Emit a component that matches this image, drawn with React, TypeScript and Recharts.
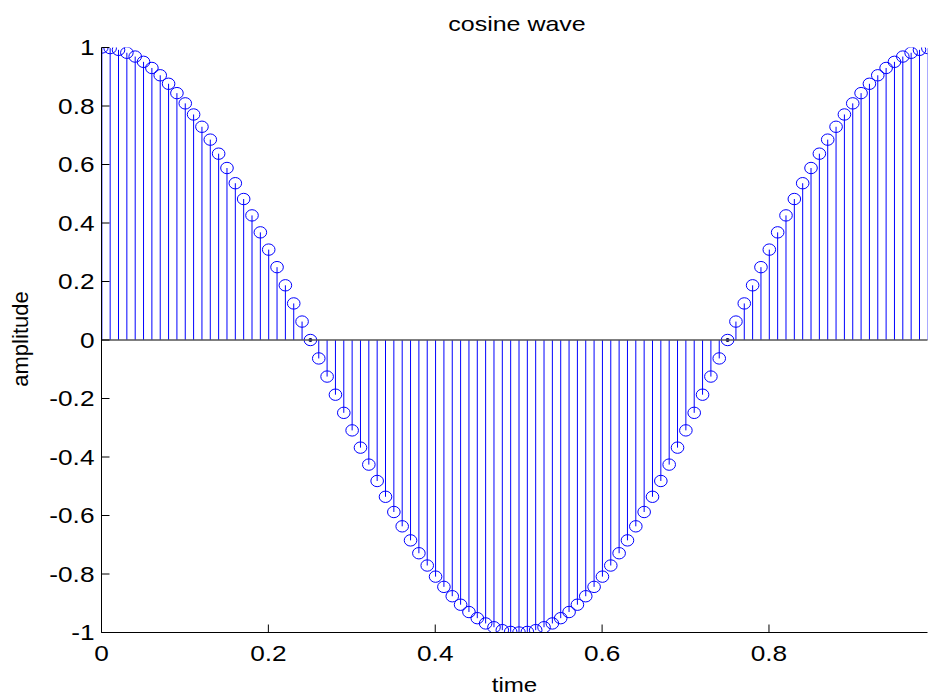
import { ComposedChart, Bar, XAxis, YAxis, ReferenceLine } from 'recharts';

const times = [
  0, 0.01, 0.02, 0.03, 0.04, 0.05, 0.06, 0.07, 0.08, 0.09,
  0.1, 0.11, 0.12, 0.13, 0.14, 0.15, 0.16, 0.17, 0.18, 0.19,
  0.2, 0.21, 0.22, 0.23, 0.24, 0.25, 0.26, 0.27, 0.28, 0.29,
  0.3, 0.31, 0.32, 0.33, 0.34, 0.35, 0.36, 0.37, 0.38, 0.39,
  0.4, 0.41, 0.42, 0.43, 0.44, 0.45, 0.46, 0.47, 0.48, 0.49,
  0.5, 0.51, 0.52, 0.53, 0.54, 0.55, 0.56, 0.57, 0.58, 0.59,
  0.6, 0.61, 0.62, 0.63, 0.64, 0.65, 0.66, 0.67, 0.68, 0.69,
  0.7, 0.71, 0.72, 0.73, 0.74, 0.75, 0.76, 0.77, 0.78, 0.79,
  0.8, 0.81, 0.82, 0.83, 0.84, 0.85, 0.86, 0.87, 0.88, 0.89,
  0.9, 0.91, 0.92, 0.93, 0.94, 0.95, 0.96, 0.97, 0.98, 0.99,
];

const amplitude = [
  1, 0.998, 0.992, 0.982, 0.969, 0.951, 0.93, 0.905, 0.876, 0.844,
  0.809, 0.771, 0.729, 0.685, 0.637, 0.588, 0.536, 0.482, 0.426, 0.368,
  0.309, 0.249, 0.187, 0.125, 0.063, 0, -0.063, -0.125, -0.187, -0.249,
  -0.309, -0.368, -0.426, -0.482, -0.536, -0.588, -0.637, -0.685, -0.729, -0.771,
  -0.809, -0.844, -0.876, -0.905, -0.93, -0.951, -0.969, -0.982, -0.992, -0.998,
  -1, -0.998, -0.992, -0.982, -0.969, -0.951, -0.93, -0.905, -0.876, -0.844,
  -0.809, -0.771, -0.729, -0.685, -0.637, -0.588, -0.536, -0.482, -0.426, -0.368,
  -0.309, -0.249, -0.187, -0.125, -0.063, 0, 0.063, 0.125, 0.187, 0.249,
  0.309, 0.368, 0.426, 0.482, 0.536, 0.588, 0.637, 0.685, 0.729, 0.771,
  0.809, 0.844, 0.876, 0.905, 0.93, 0.951, 0.969, 0.982, 0.992, 0.998,
];

const xTicks = [0, 0.2, 0.4, 0.6, 0.8];
const yTicks = [-1, -0.8, -0.6, -0.4, -0.2, 0, 0.2, 0.4, 0.6, 0.8, 1];

const W = 930;
const H = 696;
const FONT = '"Liberation Sans", Arial, sans-serif';
const BLUE = '#0000ff';
const TICK = 8;

function Txt({ x, y, anchor = 'middle', size = 21, sx = 1.2, children }: any) {
  return (
    <text
      transform={`translate(${x},${y}) scale(${sx},1)`}
      textAnchor={anchor}
      fontSize={size}
      fontFamily={FONT}
      fill="#000"
    >
      {children}
    </text>
  );
}

function BottomTick({ x, y, payload }: any) {
  return (
    <g>
      <line x1={x} x2={x} y1={y} y2={y - TICK} stroke="#000" />
      <Txt x={x} y={y + 28.5} size={21.5} sx={1.22}>{String(payload.value)}</Txt>
    </g>
  );
}

function TopTick({ x, y }: any) {
  return <line x1={x} x2={x} y1={y} y2={y + TICK} stroke="#000" />;
}

function LeftTick({ x, y, payload }: any) {
  return (
    <g>
      <line x1={x} x2={x + TICK} y1={y} y2={y} stroke="#000" />
      <Txt x={x - 7} y={y + 7.5} anchor="end" size={21.5} sx={1.22}>{String(payload.value)}</Txt>
    </g>
  );
}

function RightTick({ x, y }: any) {
  return <line x1={x} x2={x - TICK} y1={y} y2={y} stroke="#000" />;
}

function Stem(props: any) {
  const { x, y, width, height, payload } = props;
  const cx = x + width / 2;
  const top = Math.min(y, y + height);
  const bottom = Math.max(y, y + height);
  const v = payload.amp;
  const cy = v >= 0 ? top : bottom;
  const base = v >= 0 ? bottom : top;
  return (
    <g>
      <line x1={cx} x2={cx} y1={base} y2={cy} stroke={BLUE} />
      <ellipse cx={cx} cy={cy} rx={6.3} ry={5.7} fill="none" stroke={BLUE} />
      {v === 0 && <circle cx={cx} cy={cy} r={2} fill="#000060" />}
    </g>
  );
}

export default function App() {
  const data = times.map((t, i) => ({ t, amp: amplitude[i] }));

  return (
    <div style={{ position: 'absolute', left: 0, top: 0, width: W, height: H, background: '#fff' }}>
      <ComposedChart
        width={W}
        height={H}
        data={data}
        margin={{ top: 47.5, right: 2.5, bottom: 0, left: 0 }}
      >
        <XAxis
          dataKey="t"
          type="number"
          domain={[0, 0.99]}
          allowDataOverflow
          ticks={xTicks}
          height={63.5}
          axisLine={{ stroke: '#000' }}
          tickLine={false}
          tickSize={0}
          tickMargin={0}
          tick={<BottomTick />}
        />
        <XAxis
          xAxisId="top"
          orientation="top"
          dataKey="t"
          type="number"
          domain={[0, 0.99]}
          allowDataOverflow
          ticks={xTicks}
          height={0}
          axisLine={{ stroke: '#000' }}
          tickLine={false}
          tickSize={0}
          tickMargin={0}
          tick={<TopTick />}
        />
        <YAxis
          type="number"
          domain={[-1, 1]}
          allowDataOverflow
          ticks={yTicks}
          width={101.5}
          axisLine={{ stroke: '#000' }}
          tickLine={false}
          tickSize={0}
          tickMargin={0}
          tick={<LeftTick />}
        />
        <YAxis
          yAxisId="right"
          orientation="right"
          type="number"
          domain={[-1, 1]}
          allowDataOverflow
          ticks={yTicks}
          width={0}
          axisLine={{ stroke: '#000' }}
          tickLine={false}
          tickSize={0}
          tickMargin={0}
          tick={<RightTick />}
        />
        <Bar
          dataKey="amp"
          barSize={1}
          fill={BLUE}
          isAnimationActive={false}
          shape={(p: any) => <Stem {...p} />}
        />
        <ReferenceLine y={0} stroke="#555" strokeWidth={1.5} ifOverflow="extendDomain" />
      </ComposedChart>
      <svg
        width={W}
        height={H}
        style={{ position: 'absolute', left: 0, top: 0, pointerEvents: 'none' }}
      >
        <Txt x={517} y={30.5} size={21} sx={1.19}>cosine wave</Txt>
        <Txt x={514.5} y={692} size={21} sx={1.15}>time</Txt>
        <text
          transform="translate(28,339) rotate(-90)"
          textAnchor="middle"
          fontSize={22}
          fontFamily={FONT}
          fill="#000"
        >
          amplitude
        </text>
      </svg>
    </div>
  );
}
